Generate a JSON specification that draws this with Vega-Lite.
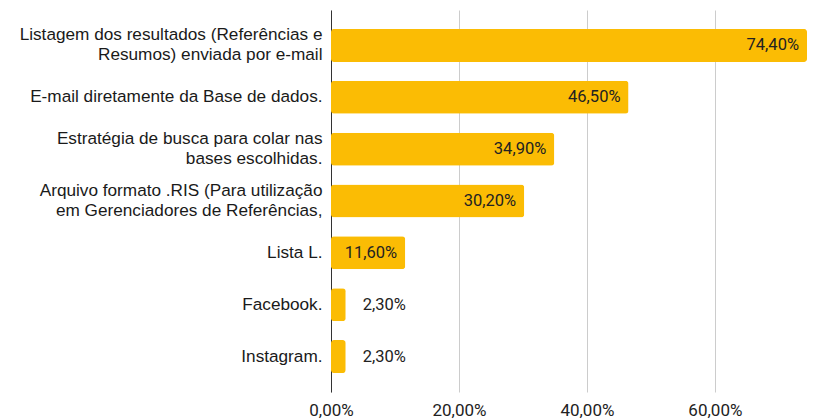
{
  "$schema": "https://vega.github.io/schema/vega-lite/v6.json",
  "autosize": {"type": "none"},
  "padding": {"left": 331, "top": 10, "right": 26, "bottom": 27},
  "width": 476,
  "height": 382,
  "background": "white",
  "config": {
    "view": {"stroke": null},
    "locale": {"number": {"decimal": ",", "thousands": ".", "grouping": [3], "currency": ["", ""]}}
  },
  "data": {
    "values": [
      {"cat": "Listagem dos resultados (Referências e|Resumos) enviada por e-mail", "value": 0.744},
      {"cat": "E-mail diretamente da Base de dados.", "value": 0.465},
      {"cat": "Estratégia de busca para colar nas|bases escolhidas.", "value": 0.349},
      {"cat": "Arquivo formato .RIS (Para utilização|em Gerenciadores de Referências,", "value": 0.302},
      {"cat": "Lista L.", "value": 0.116},
      {"cat": "Facebook.", "value": 0.023},
      {"cat": "Instagram.", "value": 0.023}
    ]
  },
  "encoding": {
    "y": {
      "field": "cat", "type": "nominal", "sort": null,
      "scale": {"paddingInner": 0.364, "paddingOuter": 0.366},
      "axis": {
        "title": null, "domain": true, "domainColor": "#333333", "domainWidth": 1,
        "ticks": false, "labelFont": "Liberation Sans", "labelFontSize": 17.2,
        "labelColor": "#1a1a1a", "labelPadding": 9, "labelLimit": 400,
        "labelLineHeight": 20, "labelExpr": "split(datum.label, '|')",
        "labelOffset": {"expr": "indexof(datum.value, '|') >= 0 ? -10 : 0"}
      }
    },
    "x": {
      "field": "value", "type": "quantitative",
      "scale": {"domain": [0, 0.744], "nice": false},
      "axis": {
        "title": null, "format": ".2%", "values": [0, 0.2, 0.4, 0.6],
        "domain": false, "ticks": false, "grid": true, "gridColor": "#cccccc",
        "labelFont": "Roboto", "labelFontSize": 17, "labelColor": "#222222",
        "labelPadding": 10, "labelFlush": false
      }
    }
  },
  "layer": [
    {"mark": {"type": "bar", "color": "#FBBC04", "cornerRadius": 3}},
    {
      "transform": [{"filter": "datum.value >= 0.1"}],
      "mark": {"type": "text", "align": "right", "dx": -8, "font": "Roboto", "fontSize": 16.5, "color": "#222222"},
      "encoding": {"text": {"field": "value", "type": "quantitative", "format": ".2%"}}
    },
    {
      "transform": [{"filter": "datum.value < 0.1"}],
      "mark": {"type": "text", "align": "left", "dx": 17, "font": "Roboto", "fontSize": 16.5, "color": "#222222"},
      "encoding": {"text": {"field": "value", "type": "quantitative", "format": ".2%"}}
    }
  ]
}
